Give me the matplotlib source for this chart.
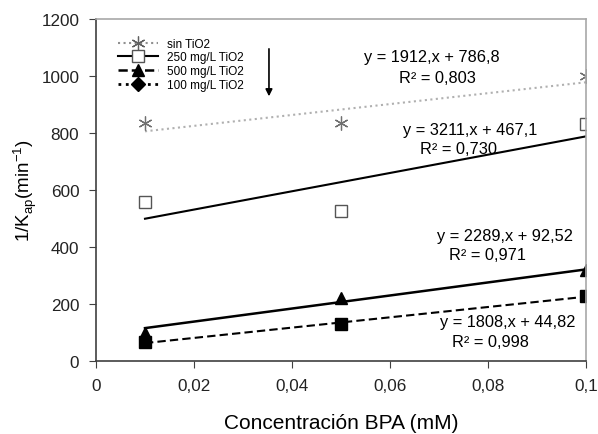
import numpy as np
import matplotlib
matplotlib.use("Agg")
from matplotlib import pyplot as plt
from matplotlib.lines import Line2D

plt.rcParams['font.family'] = ['Liberation Sans', 'DejaVu Sans']

# data
conc = [0.01, 0.05, 0.1]
sin_tio2 = [834, 835, 1000]
tio2_250 = [557, 527, 833]
tio2_500 = [100, 222, 320]
tio2_100 = [65, 130, 228]

# fitted lines (slope, intercept) as printed on the chart
fits = {
    'sin': (1912, 786.8),
    '250': (3211, 467.1),
    '500': (2289, 92.52),
    '100': (1808, 44.82),
}
eq_text = [
    ("y = 1912,x + 786,8", "R² = 0,803", 0.0685, 1067, 0.0696, 993),
    ("y = 3211,x + 467,1", "R² = 0,730", 0.0763, 814, 0.0739, 747),
    ("y = 2289,x + 92,52", "R² = 0,971", 0.0835, 439, 0.0798, 372),
    ("y = 1808,x + 44,82", "R² = 0,998", 0.0841, 137, 0.0804, 70),
]

fig = plt.figure(figsize=(5.98, 4.35), dpi=100)
ax = fig.add_axes([96/598, 73/435, 490/598, 342/435])

xfit = np.array([conc[0], conc[-1]])
def fitline(key):
    m, b = fits[key]
    return m*xfit + b

ax.plot(xfit, fitline('sin'), color='#b0b0b0', ls=':', lw=1.5)
ax.plot(xfit, fitline('250'), color='black', lw=1.5)
ax.plot(xfit, fitline('500'), color='black', lw=1.8)
ax.plot(xfit, fitline('100'), color='black', ls=(0, (4, 2)), lw=1.5)

ax.plot(conc, sin_tio2, ls='none', marker=(6, 2, 0), ms=10, mec='#707070', mew=0.9)
ax.plot(conc, tio2_250, ls='none', marker='s', ms=8, mfc='white', mec='#555555', mew=1)
ax.plot(conc, tio2_500, ls='none', marker='^', ms=8, color='black')
ax.plot(conc, tio2_100, ls='none', marker='s', ms=8, color='black')

for eq, r2, ex, ey, rx, ry in eq_text:
    ax.text(ex, ey, eq, ha='center', va='center', fontsize=11.8)
    ax.text(rx, ry, r2, ha='center', va='center', fontsize=11.8)

ax.annotate('', xy=(0.0353, 919), xytext=(0.0353, 1105),
            arrowprops=dict(arrowstyle='-|>', color='black', lw=1.2, mutation_scale=10))

handles = [
    Line2D([], [], color='#909090', ls=':', marker=(6, 2, 0), ms=10, mec='#606060', lw=1.5, mew=0.9),
    Line2D([], [], color='black', lw=1.5, marker='s', ms=8, mfc='white', mec='#555555'),
    Line2D([], [], color='black', ls='--', lw=1.8, marker='^', ms=8),
    Line2D([], [], color='black', ls=':', lw=2, marker='D', ms=7),
]
labels = ['sin TiO2', '250 mg/L TiO2', '500 mg/L TiO2', '100 mg/L TiO2']
ax.legend(handles, labels, loc='upper left', bbox_to_anchor=(0.02, 0.98), frameon=False,
          fontsize=8.5, handlelength=3.4, labelspacing=0.15, borderaxespad=0.6, handletextpad=0.8)

ax.set_xlim(0, 0.1)
ax.set_ylim(0, 1200)
ax.set_xticks([0, 0.02, 0.04, 0.06, 0.08, 0.1])
ax.set_xticklabels(['0', '0,02', '0,04', '0,06', '0,08', '0,1'])
ax.set_yticks(range(0, 1201, 200))
ax.tick_params(labelsize=12.3, color='#404040', direction='out', length=5, labelcolor='#222222')
ax.tick_params(axis='x', pad=7)
ax.tick_params(axis='y', pad=7)
for s in ['left', 'bottom']:
    ax.spines[s].set_color('#404040')
    ax.spines[s].set_linewidth(1.2)
for s in ['top', 'right']:
    ax.spines[s].set_color('#a8a8a8')
    ax.spines[s].set_linewidth(1.2)

ax.set_xlabel('Concentración BPA (mM)', fontsize=15, labelpad=15)
ax.set_ylabel('1/K$_{\\mathregular{ap}}$(min$^{\\mathregular{-1}}$)', fontsize=13.5, labelpad=2)

fig.savefig('out.png', dpi=100)
